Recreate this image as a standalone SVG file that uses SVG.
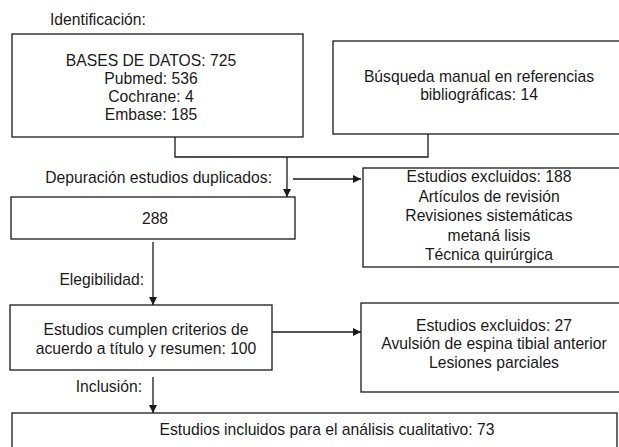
<svg xmlns="http://www.w3.org/2000/svg" width="619" height="447" viewBox="0 0 619 447">
<defs>
<marker id="ah" viewBox="0 0 10 10" refX="10" refY="5" markerWidth="8" markerHeight="8" markerUnits="userSpaceOnUse" orient="auto">
<path d="M0,0 L10,5 L0,10 Z" fill="#1a1a1a"/>
</marker>
<style>
.box{fill:#fff;stroke:#1a1a1a;stroke-width:1.3}
.t{font-family:"Liberation Sans",Arial,sans-serif;font-size:15.7px;fill:#1a1a1a;text-anchor:middle}
.l{font-family:"Liberation Sans",Arial,sans-serif;font-size:15.7px;fill:#1a1a1a}
.c{fill:none;stroke:#1a1a1a;stroke-width:1.3}
</style>
</defs>
<rect width="619" height="447" fill="#fff"/>
<g id="labels">
<text class="l" x="50" y="25">Identificación:</text>
<text class="l" x="272" y="183" text-anchor="end">Depuración estudios duplicados:</text>
<text class="l" x="144" y="285" text-anchor="end">Elegibilidad:</text>
<text class="l" x="142" y="392" text-anchor="end">Inclusión:</text>
</g>
<g id="connectors">
<polyline class="c" points="175,137 175,157 428,157 428,134"/>
<line class="c" x1="287" y1="157" x2="287" y2="197" marker-end="url(#ah)"/>
<line class="c" x1="293" y1="179" x2="361" y2="179" marker-end="url(#ah)"/>
<line class="c" x1="153" y1="242" x2="153" y2="305" marker-end="url(#ah)"/>
<line class="c" x1="272" y1="332" x2="361" y2="332" marker-end="url(#ah)"/>
<line class="c" x1="153" y1="377" x2="153" y2="413" marker-end="url(#ah)"/>
</g>
<g id="bases">
<rect class="box" x="12" y="34" width="291" height="103"/>
<text class="t" x="151" y="66">BASES DE DATOS: 725</text>
<text class="t" x="151" y="84">Pubmed: 536</text>
<text class="t" x="151" y="102">Cochrane: 4</text>
<text class="t" x="151" y="120">Embase: 185</text>
</g>
<g id="busqueda">
<rect class="box" x="333" y="41" width="300" height="93"/>
<text class="t" x="479" y="82">Búsqueda manual en referencias</text>
<text class="t" x="479" y="100">bibliográficas: 14</text>
</g>
<g id="n288">
<rect class="box" x="11" y="197" width="284" height="42"/>
<text class="t" x="155" y="224">288</text>
</g>
<g id="excl188">
<rect class="box" x="363" y="168" width="270" height="99"/>
<text class="t" x="489" y="182">Estudios excluidos: 188</text>
<text class="t" x="489" y="202">Artículos de revisión</text>
<text class="t" x="489" y="221">Revisiones sistemáticas</text>
<text class="t" x="489" y="241">metaná lisis</text>
<text class="t" x="489" y="260">Técnica quirúrgica</text>
</g>
<g id="cumplen">
<rect class="box" x="10" y="305" width="262" height="65"/>
<text class="t" x="146" y="335">Estudios cumplen criterios de</text>
<text class="t" x="146" y="354">acuerdo a título y resumen: 100</text>
</g>
<g id="excl27">
<rect class="box" x="361" y="303" width="270" height="89"/>
<text class="t" x="494" y="331">Estudios excluidos: 27</text>
<text class="t" x="494" y="349">Avulsión de espina tibial anterior</text>
<text class="t" x="494" y="368">Lesiones parciales</text>
</g>
<g id="incluidos">
<rect class="box" x="12" y="413" width="605" height="50"/>
<text class="t" x="327" y="435">Estudios incluidos para el análisis cualitativo: 73</text>
</g>
</svg>
